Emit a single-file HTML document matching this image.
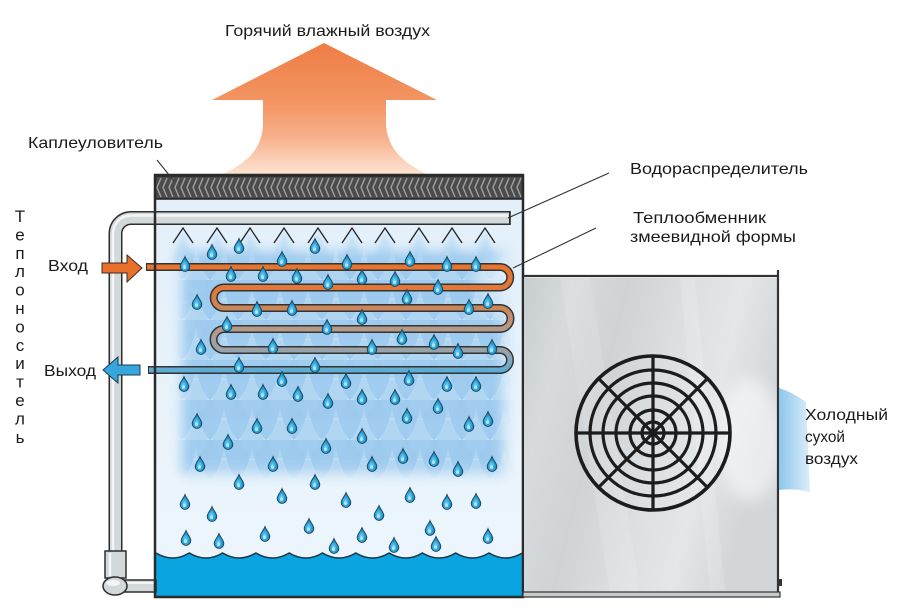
<!DOCTYPE html>
<html><head><meta charset="utf-8"><style>
html,body{margin:0;padding:0;background:#fff;}
svg{display:block;}
text{font-family:"Liberation Sans","DejaVu Sans",sans-serif;fill:#1b1b1b;}
</style></head><body>
<svg width="900" height="613" viewBox="0 0 900 613" xmlns="http://www.w3.org/2000/svg">
<defs>
  <linearGradient id="hot" x1="0" y1="43" x2="0" y2="177" gradientUnits="userSpaceOnUse">
    <stop offset="0" stop-color="#ef7d45"/>
    <stop offset="0.45" stop-color="#f39563"/>
    <stop offset="0.7" stop-color="#f7b08a"/>
    <stop offset="1" stop-color="#fde7d8"/>
  </linearGradient>
  <linearGradient id="coil" x1="0" y1="262" x2="0" y2="375" gradientUnits="userSpaceOnUse">
    <stop offset="0" stop-color="#e8742c"/>
    <stop offset="0.25" stop-color="#e0783a"/>
    <stop offset="0.42" stop-color="#c9875c"/>
    <stop offset="0.6" stop-color="#b49a8a"/>
    <stop offset="0.77" stop-color="#9aa2a6"/>
    <stop offset="0.88" stop-color="#80a9c2"/>
    <stop offset="1" stop-color="#4aaede"/>
  </linearGradient>
  <radialGradient id="dg" cx="45%" cy="62%" r="60%">
    <stop offset="0" stop-color="#86d6f4"/>
    <stop offset="0.6" stop-color="#1f9dd7"/>
    <stop offset="1" stop-color="#0f70a8"/>
  </radialGradient>
  <linearGradient id="metal" x1="0" y1="0" x2="1" y2="0.3">
    <stop offset="0" stop-color="#c7cccf"/>
    <stop offset="0.18" stop-color="#d7dbdd"/>
    <stop offset="0.38" stop-color="#cfd3d6"/>
    <stop offset="0.58" stop-color="#dbdee0"/>
    <stop offset="0.8" stop-color="#e4e7e8"/>
    <stop offset="1" stop-color="#d2d6d8"/>
  </linearGradient>
  <linearGradient id="cold" x1="0" y1="0" x2="1" y2="0">
    <stop offset="0" stop-color="#8cc6ee"/>
    <stop offset="1" stop-color="#dcedf9"/>
  </linearGradient>
  <linearGradient id="inner" x1="0" y1="0" x2="0" y2="1">
    <stop offset="0" stop-color="#e2effa"/>
    <stop offset="1" stop-color="#edf6fc"/>
  </linearGradient>
  <pattern id="hatch" x="0" y="176" width="6" height="23" patternUnits="userSpaceOnUse">
    <rect width="6" height="23" fill="#4b4b4b"/>
    <path d="M5,2 L1,11.5 L5,21" stroke="#a0a0a0" stroke-width="1.4" fill="none"/>
  </pattern>
  <pattern id="ice1" x="0" y="0" width="28" height="40" patternUnits="userSpaceOnUse">
    <path d="M0,0 H28 V8 Q24,30 14,40 Q4,30 0,8 Z" fill="#7ab6e8" opacity="0.5"/>
  </pattern>
  <pattern id="ice2" x="14" y="20" width="28" height="40" patternUnits="userSpaceOnUse">
    <path d="M0,0 H28 V8 Q24,30 14,40 Q4,30 0,8 Z" fill="#a0cdf0" opacity="0.5"/>
  </pattern>
  <filter id="blur6" x="-20%" y="-20%" width="140%" height="140%"><feGaussianBlur stdDeviation="6"/></filter>
  <filter id="blur3" x="-50%" y="-50%" width="200%" height="200%"><feGaussianBlur stdDeviation="3"/></filter>
  <filter id="blur8" x="-50%" y="-50%" width="200%" height="200%"><feGaussianBlur stdDeviation="8"/></filter>
  <mask id="icemask" maskUnits="userSpaceOnUse" x="150" y="220" width="380" height="290">
    <rect x="182" y="252" width="322" height="222" fill="#fff" filter="url(#blur6)"/>
  </mask>
  <g id="dp">
    <path d="M0,-8.5 C1.6,-4.2 4.8,-2 4.8,1.6 A4.8,4.8 0 1 1 -4.8,1.6 C-4.8,-2 -1.6,-4.2 0,-8.5 Z" fill="url(#dg)" stroke="#1f4257" stroke-width="0.9"/>
    <ellipse cx="-0.5" cy="2.2" rx="1.6" ry="1.8" fill="#c4ecfb" opacity="0.8"/>
  </g>
</defs>

<rect width="900" height="613" fill="#fff"/>

<!-- hot air arrow -->
<path d="M324,43 L437,100 L386,100 L386,125 C388,150 405,165 432,176 L218,176 C245,165 262,150 263,125 L263,100 L212,100 Z" fill="url(#hot)"/>

<!-- tower interior -->
<rect x="155" y="175" width="368" height="422" fill="url(#inner)"/>

<!-- ice texture -->
<g mask="url(#icemask)">
  <rect x="160" y="240" width="360" height="250" fill="#94c5ed" opacity="0.45"/>
  <rect x="160" y="240" width="360" height="250" fill="url(#ice1)"/>
  <rect x="160" y="240" width="360" height="250" fill="url(#ice2)"/>
</g>
<ellipse cx="495" cy="285" rx="18" ry="30" fill="#eef7fd" opacity="0.6" filter="url(#blur6)"/>

<!-- sprays -->
<g fill="#9fcdf0" opacity="0.45" filter="url(#blur3)">
  <polygon points="183,230 171,262 195,262"/>
  <polygon points="217,230 205,262 229,262"/>
  <polygon points="250,230 238,262 262,262"/>
  <polygon points="284,230 272,262 296,262"/>
  <polygon points="318,230 306,262 330,262"/>
  <polygon points="352,230 340,262 364,262"/>
  <polygon points="385,230 373,262 397,262"/>
  <polygon points="419,230 407,262 431,262"/>
  <polygon points="452,230 440,262 464,262"/>
  <polygon points="485,230 473,262 497,262"/>
</g>

<!-- nozzles -->
<g stroke="#222" stroke-width="1.3" fill="none">
  <path d="M173,243 L183,228 L193,243"/>
  <path d="M207,243 L217,228 L227,243"/>
  <path d="M240,243 L250,228 L260,243"/>
  <path d="M274,243 L284,228 L294,243"/>
  <path d="M308,243 L318,228 L328,243"/>
  <path d="M342,243 L352,228 L362,243"/>
  <path d="M375,243 L385,228 L395,243"/>
  <path d="M409,243 L419,228 L429,243"/>
  <path d="M442,243 L452,228 L462,243"/>
  <path d="M475,243 L485,228 L495,243"/>
</g>

<!-- coil -->
<path d="M146,267 H500 A10.25,10.25 0 0 1 500,287.5 H224 A10.25,10.25 0 0 0 224,308 H500 A10.5,10.5 0 0 1 500,329 H224 A10.5,10.5 0 0 0 224,350 H500 A10,10 0 0 1 500,370 H148" fill="none" stroke="#333" stroke-width="8"/>
<path d="M147,267 H500 A10.25,10.25 0 0 1 500,287.5 H224 A10.25,10.25 0 0 0 224,308 H500 A10.5,10.5 0 0 1 500,329 H224 A10.5,10.5 0 0 0 224,350 H500 A10,10 0 0 1 500,370 H149" fill="none" stroke="url(#coil)" stroke-width="5"/>

<!-- drops -->
<g>
<use href="#dp" x="212" y="253"/><use href="#dp" x="239" y="247"/><use href="#dp" x="315" y="247"/>
<use href="#dp" x="185" y="265"/><use href="#dp" x="282" y="260"/><use href="#dp" x="347" y="263"/><use href="#dp" x="410" y="260"/><use href="#dp" x="447" y="265"/><use href="#dp" x="476" y="265"/>
<use href="#dp" x="231" y="275"/><use href="#dp" x="263" y="275"/><use href="#dp" x="297" y="277"/><use href="#dp" x="362" y="278"/><use href="#dp" x="395" y="280"/><use href="#dp" x="328" y="283"/><use href="#dp" x="438" y="288"/>
<use href="#dp" x="197" y="303"/><use href="#dp" x="407" y="298"/><use href="#dp" x="257" y="310"/><use href="#dp" x="292" y="309"/><use href="#dp" x="469" y="308"/><use href="#dp" x="488" y="302"/>
<use href="#dp" x="362" y="318"/><use href="#dp" x="227" y="325"/><use href="#dp" x="327" y="328"/>
<use href="#dp" x="402" y="338"/><use href="#dp" x="434" y="343"/><use href="#dp" x="201" y="348"/><use href="#dp" x="273" y="347"/><use href="#dp" x="372" y="348"/><use href="#dp" x="458" y="352"/><use href="#dp" x="492" y="348"/>
<use href="#dp" x="239" y="366"/><use href="#dp" x="315" y="366"/>
<use href="#dp" x="282" y="380"/><use href="#dp" x="409" y="379"/><use href="#dp" x="184" y="385"/><use href="#dp" x="346" y="382"/><use href="#dp" x="447" y="385"/><use href="#dp" x="476" y="385"/>
<use href="#dp" x="231" y="393"/><use href="#dp" x="263" y="393"/><use href="#dp" x="298" y="395"/><use href="#dp" x="328" y="402"/><use href="#dp" x="362" y="398"/><use href="#dp" x="395" y="398"/><use href="#dp" x="438" y="407"/>
<use href="#dp" x="197" y="422"/><use href="#dp" x="407" y="417"/><use href="#dp" x="257" y="427"/><use href="#dp" x="292" y="427"/><use href="#dp" x="469" y="425"/><use href="#dp" x="488" y="420"/>
<use href="#dp" x="362" y="437"/><use href="#dp" x="228" y="443"/><use href="#dp" x="326" y="447"/>
<use href="#dp" x="403" y="457"/><use href="#dp" x="434" y="460"/><use href="#dp" x="200" y="465"/><use href="#dp" x="273" y="465"/><use href="#dp" x="372" y="465"/><use href="#dp" x="458" y="470"/><use href="#dp" x="492" y="465"/>
<use href="#dp" x="239" y="483"/><use href="#dp" x="315" y="483"/>
<use href="#dp" x="185" y="503"/><use href="#dp" x="282" y="497"/><use href="#dp" x="346" y="501"/><use href="#dp" x="410" y="496"/><use href="#dp" x="447" y="503"/><use href="#dp" x="476" y="502"/>
<use href="#dp" x="212" y="515"/><use href="#dp" x="379" y="514"/>
<use href="#dp" x="309" y="527"/><use href="#dp" x="430" y="529"/>
<use href="#dp" x="186" y="539"/><use href="#dp" x="219" y="542"/><use href="#dp" x="265" y="535"/><use href="#dp" x="362" y="536"/><use href="#dp" x="488" y="537"/>
<use href="#dp" x="334" y="547"/><use href="#dp" x="394" y="546"/><use href="#dp" x="436" y="545"/>
</g>

<!-- water -->
<path d="M156,553 Q172.7,563 189.3,553 Q206,563 222.6,553 Q239.3,563 255.9,553 Q272.6,563 289.2,553 Q305.9,563 322.5,553 Q339.2,563 355.8,553 Q372.5,563 389.1,553 Q405.8,563 422.4,553 Q439.1,563 455.7,553 Q472.4,563 489,553 Q505.7,563 522.3,553 L522.3,596 L156,596 Z" fill="#0aa5e0"/>
<path d="M156,553 Q172.7,563 189.3,553 Q206,563 222.6,553 Q239.3,563 255.9,553 Q272.6,563 289.2,553 Q305.9,563 322.5,553 Q339.2,563 355.8,553 Q372.5,563 389.1,553 Q405.8,563 422.4,553 Q439.1,563 455.7,553 Q472.4,563 489,553 Q505.7,563 522.3,553" fill="none" stroke="#1d3444" stroke-width="1.5"/>

<!-- distributor pipe -->
<path d="M510,218 H131 A15.5,15.5 0 0 0 115.5,233.5 V553" fill="none" stroke="#2e2e2e" stroke-width="14"/>
<path d="M509,218 H131 A15.5,15.5 0 0 0 115.5,233.5 V553" fill="none" stroke="#d3d8db" stroke-width="11"/>
<path d="M508,215.5 H131 A18,18 0 0 0 113,233.5 V553" fill="none" stroke="#f3f5f6" stroke-width="2.5"/>
<line x1="510" y1="211" x2="510" y2="225" stroke="#2e2e2e" stroke-width="1.6"/>
<!-- bottom joint -->
<rect x="120" y="580" width="36" height="12" fill="#d3d8db" stroke="#2e2e2e" stroke-width="1.5"/>
<line x1="122" y1="583" x2="155" y2="583" stroke="#f3f5f6" stroke-width="2"/>
<rect x="105" y="551" width="21" height="27" fill="#d3d8db" stroke="#2e2e2e" stroke-width="1.5"/>
<line x1="110" y1="553" x2="110" y2="576" stroke="#f3f5f6" stroke-width="2.5"/>
<ellipse cx="115" cy="586" rx="12" ry="9" fill="#d3d8db" stroke="#2e2e2e" stroke-width="1.5"/>
<ellipse cx="113" cy="583" rx="7" ry="3" fill="#f3f5f6"/>

<!-- drift eliminator band -->
<rect x="155" y="176" width="368" height="23" fill="url(#hatch)" stroke="#222" stroke-width="1.5"/>

<!-- tower frame -->
<path d="M155,175 H523 V597 H155 Z" fill="none" stroke="#2a2a2a" stroke-width="2.5"/>

<!-- fan box -->
<rect x="524" y="278" width="254" height="315" fill="url(#metal)"/>
<path d="M560,278 L610,593 L640,593 L590,278 Z" fill="#ffffff" opacity="0.12"/>
<path d="M680,278 L710,593 L725,593 L695,278 Z" fill="#ffffff" opacity="0.15"/>
<ellipse cx="750" cy="440" rx="32" ry="62" fill="#ffffff" opacity="0.55" filter="url(#blur8)"/>
<line x1="523" y1="276" x2="778" y2="276" stroke="#333" stroke-width="2.2"/>
<line x1="778" y1="270" x2="778" y2="597" stroke="#333" stroke-width="2.2"/>
<rect x="523" y="592" width="257" height="5" fill="#c6cbce" stroke="#333" stroke-width="1.2"/>
<rect x="778" y="579" width="4" height="7" fill="#333"/>

<!-- fan grille -->
<g fill="none" stroke="#1c1c1c" stroke-width="3.2">
  <circle cx="653" cy="433" r="77" stroke-width="3.6"/>
  <circle cx="653" cy="433" r="63"/>
  <circle cx="653" cy="433" r="50"/>
  <circle cx="653" cy="433" r="37"/>
  <circle cx="653" cy="433" r="23"/>
  <circle cx="653" cy="433" r="11"/>
  <line x1="576" y1="433" x2="730" y2="433"/>
  <line x1="653" y1="356" x2="653" y2="510"/>
  <line x1="598.6" y1="378.6" x2="707.4" y2="487.4"/>
  <line x1="707.4" y1="378.6" x2="598.6" y2="487.4"/>
</g>

<!-- cold air -->
<path d="M779,388 Q792,392 806,402 L810,492 Q795,488 779,490 Z" fill="url(#cold)"/>

<!-- labels -->
<text x="225" y="36" font-size="16" textLength="205" lengthAdjust="spacingAndGlyphs">Горячий влажный воздух</text>
<text x="28" y="148" font-size="16" textLength="135" lengthAdjust="spacingAndGlyphs">Каплеуловитель</text>
<text x="630" y="174" font-size="16" textLength="178" lengthAdjust="spacingAndGlyphs">Водораспределитель</text>
<text x="633" y="223" font-size="16" textLength="133" lengthAdjust="spacingAndGlyphs">Теплообменник</text>
<text x="630" y="242" font-size="16" textLength="166" lengthAdjust="spacingAndGlyphs">змеевидной формы</text>
<text x="805" y="420" font-size="16" textLength="83" lengthAdjust="spacingAndGlyphs">Холодный</text>
<text x="805" y="442" font-size="16" textLength="40" lengthAdjust="spacingAndGlyphs">сухой</text>
<text x="805" y="464" font-size="16" textLength="53" lengthAdjust="spacingAndGlyphs">воздух</text>
<text x="48" y="271" font-size="16" textLength="40" lengthAdjust="spacingAndGlyphs">Вход</text>
<text x="44" y="376" font-size="16" textLength="52" lengthAdjust="spacingAndGlyphs">Выход</text>
<g font-size="17" text-anchor="middle">
  <text x="20" y="222">Т</text>
  <text x="20" y="240.4">е</text>
  <text x="20" y="258.8">п</text>
  <text x="20" y="277.2">л</text>
  <text x="20" y="295.6">о</text>
  <text x="20" y="314">н</text>
  <text x="20" y="332.4">о</text>
  <text x="20" y="350.8">с</text>
  <text x="20" y="369.2">и</text>
  <text x="20" y="387.6">т</text>
  <text x="20" y="406">е</text>
  <text x="20" y="424.4">л</text>
  <text x="20" y="442.8">ь</text>
</g>

<!-- in/out arrows -->
<polygon points="102,263 127,263 127,255 142,268 127,282 127,273 102,273" fill="#e8702a" stroke="#3a2a20" stroke-width="1"/>
<polygon points="140,365 118,365 118,357 103,370 118,383 118,375 140,375" fill="#36a6de" stroke="#1f3a4a" stroke-width="1"/>

<!-- leader lines -->
<g stroke="#333" stroke-width="1.1">
  <line x1="157" y1="160" x2="174" y2="181"/>
  <line x1="609" y1="173" x2="508" y2="218"/>
  <line x1="596" y1="228" x2="513" y2="268"/>
</g>
</svg>
</body></html>
